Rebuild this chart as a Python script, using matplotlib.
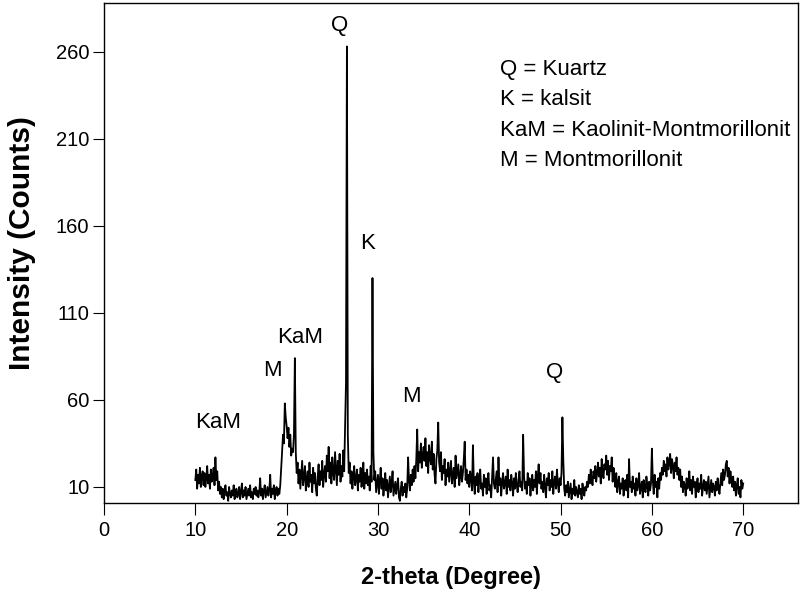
import numpy as np
import matplotlib.pyplot as plt

plt.rcParams['font.family'] = ['Liberation Sans', 'DejaVu Sans']

# 2-theta scan, 0.1 degree steps from 10 to 70
two_theta_start = 10.0
two_theta_step = 0.1
counts = [
    14, 20, 9, 17, 12, 21, 10, 16, 19, 11,     # 10
    18, 10, 15, 22, 12, 17, 9, 20, 13, 16,     # 11
    21, 11, 27, 14, 19, 8, 13, 6, 10, 4,       # 12
    9, 3, 8, 11, 5, 7, 2, 10, 6, 4,            # 13
    8, 5, 11, 3, 7, 9, 4, 6, 10, 3,            # 14
    7, 12, 4, 8, 5, 10, 3, 6, 9, 5,            # 15
    11, 4, 7, 3, 9, 6, 10, 5, 8, 4,            # 16
    7, 15, 5, 9, 3, 8, 11, 4, 7, 10,           # 17
    5, 8, 17, 4, 9, 6, 11, 3, 8, 10,           # 18
    5, 9, 6, 11, 20, 30, 40, 35, 58, 50,       # 19
    45, 38, 44, 33, 40, 28, 32, 30, 40, 84,    # 20
    30, 18, 24, 12, 20, 9, 17, 25, 11, 16,     # 21
    22, 8, 14, 19, 10, 24, 13, 17, 7, 21,      # 22
    12, 18, 9, 5, 16, 23, 11, 19, 14, 25,      # 23
    10, 17, 22, 13, 28, 19, 33, 15, 24, 12,    # 24
    27, 18, 14, 30, 21, 11, 25, 17, 29, 13,    # 25
    22, 16, 31, 19, 44, 70, 263, 40, 18, 24,   # 26
    12, 19, 9, 16, 22, 11, 14, 20, 8, 17,      # 27
    13, 21, 10, 15, 24, 9, 18, 12, 20, 11,     # 28
    16, 8, 22, 13, 130, 30, 14, 19, 7, 12,     # 29
    17, 6, 13, 21, 9, 15, 5, 11, 18, 8,        # 30
    14, 4, 10, 16, 7, 12, 19, 5, 9, 13,        # 31
    6, 11, 15, 4, 2, 9, 13, 5, 10, 7,          # 32
    12, 4, 9, 27, 14, 8, 17, 11, 20, 13,       # 33
    22, 15, 26, 43, 19, 30, 24, 35, 21, 28,    # 34
    33, 25, 38, 22, 30, 18, 34, 27, 23, 36,    # 35
    20, 29, 17, 12, 26, 31, 47, 24, 19, 30,    # 36
    14, 22, 18, 26, 11, 20, 16, 24, 13, 19,    # 37
    25, 12, 17, 21, 10, 28, 15, 19, 23, 11,    # 38
    16, 22, 13, 18, 26, 36, 14, 20, 12, 17,    # 39
    10, 19, 15, 8, 34, 13, 6, 16, 11, 18,      # 40
    7, 14, 20, 9, 12, 5, 17, 10, 15, 6,        # 41
    13, 18, 8, 11, 4, 16, 27, 12, 9, 14,       # 42
    19, 7, 27, 11, 15, 5, 13, 18, 9, 12,       # 43
    16, 6, 20, 10, 14, 8, 17, 12, 5, 15,       # 44
    9, 18, 11, 7, 14, 19, 10, 13, 8, 40,       # 45
    16, 9, 13, 6, 18, 11, 15, 5, 12, 17,       # 46
    8, 14, 10, 19, 6, 16, 23, 12, 18, 9,       # 47
    13, 7, 17, 10, 4, 15, 11, 18, 8, 14,       # 48
    10, 19, 6, 13, 16, 9, 20, 12, 7, 15,       # 49
    11, 18, 50, 25, 9, 5, 11, 7, 13, 4,        # 50
    8, 12, 3, 9, 6, 14, 5, 10, 7, 4,           # 51
    11, 6, 9, 3, 12, 7, 5, 10, 8, 13,          # 52
    10, 17, 12, 20, 14, 11, 19, 15, 22, 13,    # 53
    18, 24, 16, 21, 12, 26, 19, 15, 23, 20,    # 54
    28, 17, 25, 14, 22, 19, 27, 13, 21, 16,    # 55
    10, 18, 7, 13, 16, 6, 12, 9, 15, 5,        # 56
    11, 14, 8, 17, 4, 26, 10, 13, 7, 16,       # 57
    9, 12, 5, 15, 8, 11, 18, 6, 10, 13,        # 58
    4, 14, 9, 7, 16, 11, 5, 13, 8, 12,         # 59
    32, 14, 6, 17, 10, 13, 4, 15, 9, 18,       # 60
    14, 21, 17, 25, 19, 23, 16, 27, 20, 24,    # 61
    29, 18, 26, 22, 15, 24, 19, 27, 17, 21,    # 62
    14, 20, 10, 16, 7, 13, 11, 5, 15, 9,       # 63
    12, 19, 8, 14, 6, 16, 10, 13, 4, 11,       # 64
    15, 7, 12, 9, 17, 5, 10, 14, 8, 13,        # 65
    6, 11, 16, 4, 9, 14, 7, 12, 10, 5,         # 66
    13, 8, 15, 10, 6, 12, 18, 11, 20, 14,      # 67
    17, 23, 25, 16, 21, 12, 19, 14, 10, 16,    # 68
    8, 13, 5, 11, 15, 6, 10, 4, 14, 9,         # 69
    12,                                        # 70
]

# phase labels placed over the peaks: (text, 2-theta, counts)
peak_labels = [
    ('Q', 25.85, 275),
    ('K', 28.9, 150),
    ('KaM', 21.5, 96),
    ('M', 18.4, 77),
    ('KaM', 12.5, 47),
    ('M', 33.7, 62),
    ('Q', 49.3, 76),
]

key_lines = [
    'Q = Kuartz',
    'K = kalsit',
    'KaM = Kaolinit-Montmorillonit',
    'M = Montmorillonit',
]
key_y = [250, 232.5, 215, 197.5]

x_ticks = [0, 10, 20, 30, 40, 50, 60, 70]
y_ticks = [10, 60, 110, 160, 210, 260]

two_theta = two_theta_start + two_theta_step * np.arange(len(counts))

fig = plt.figure(figsize=(8.02, 5.97), dpi=100)
ax = fig.add_axes([0.1297, 0.1575, 0.8653, 0.8375])

ax.plot(two_theta, counts, color='black', linewidth=1.3)

for txt, xx, yy in peak_labels:
    ax.text(xx, yy, txt, fontsize=16, ha='center', va='center')

for txt, yy in zip(key_lines, key_y):
    ax.text(43.4, yy, txt, fontsize=16, ha='left', va='center')

ax.set_xlim(0, 76)
ax.set_ylim(0.8, 288)
ax.set_xticks(x_ticks)
ax.set_yticks(y_ticks)
ax.tick_params(axis='x', direction='out', length=8.6, width=0.8, labelsize=14.5, pad=4.5)
ax.tick_params(axis='y', direction='out', length=8, width=0.8, labelsize=14.5, pad=2.5)
for s in ax.spines.values():
    s.set_linewidth(1.0)

ax.set_xlabel('2-theta (Degree)', fontsize=17, fontweight='bold', va='center')
ax.xaxis.set_label_coords(0.5, -0.15)
ax.set_ylabel('Intensity (Counts)', fontsize=21.5, fontweight='bold', va='center')
ax.yaxis.set_label_coords(-0.118, 0.52)

fig.savefig('out.png', dpi=100)
